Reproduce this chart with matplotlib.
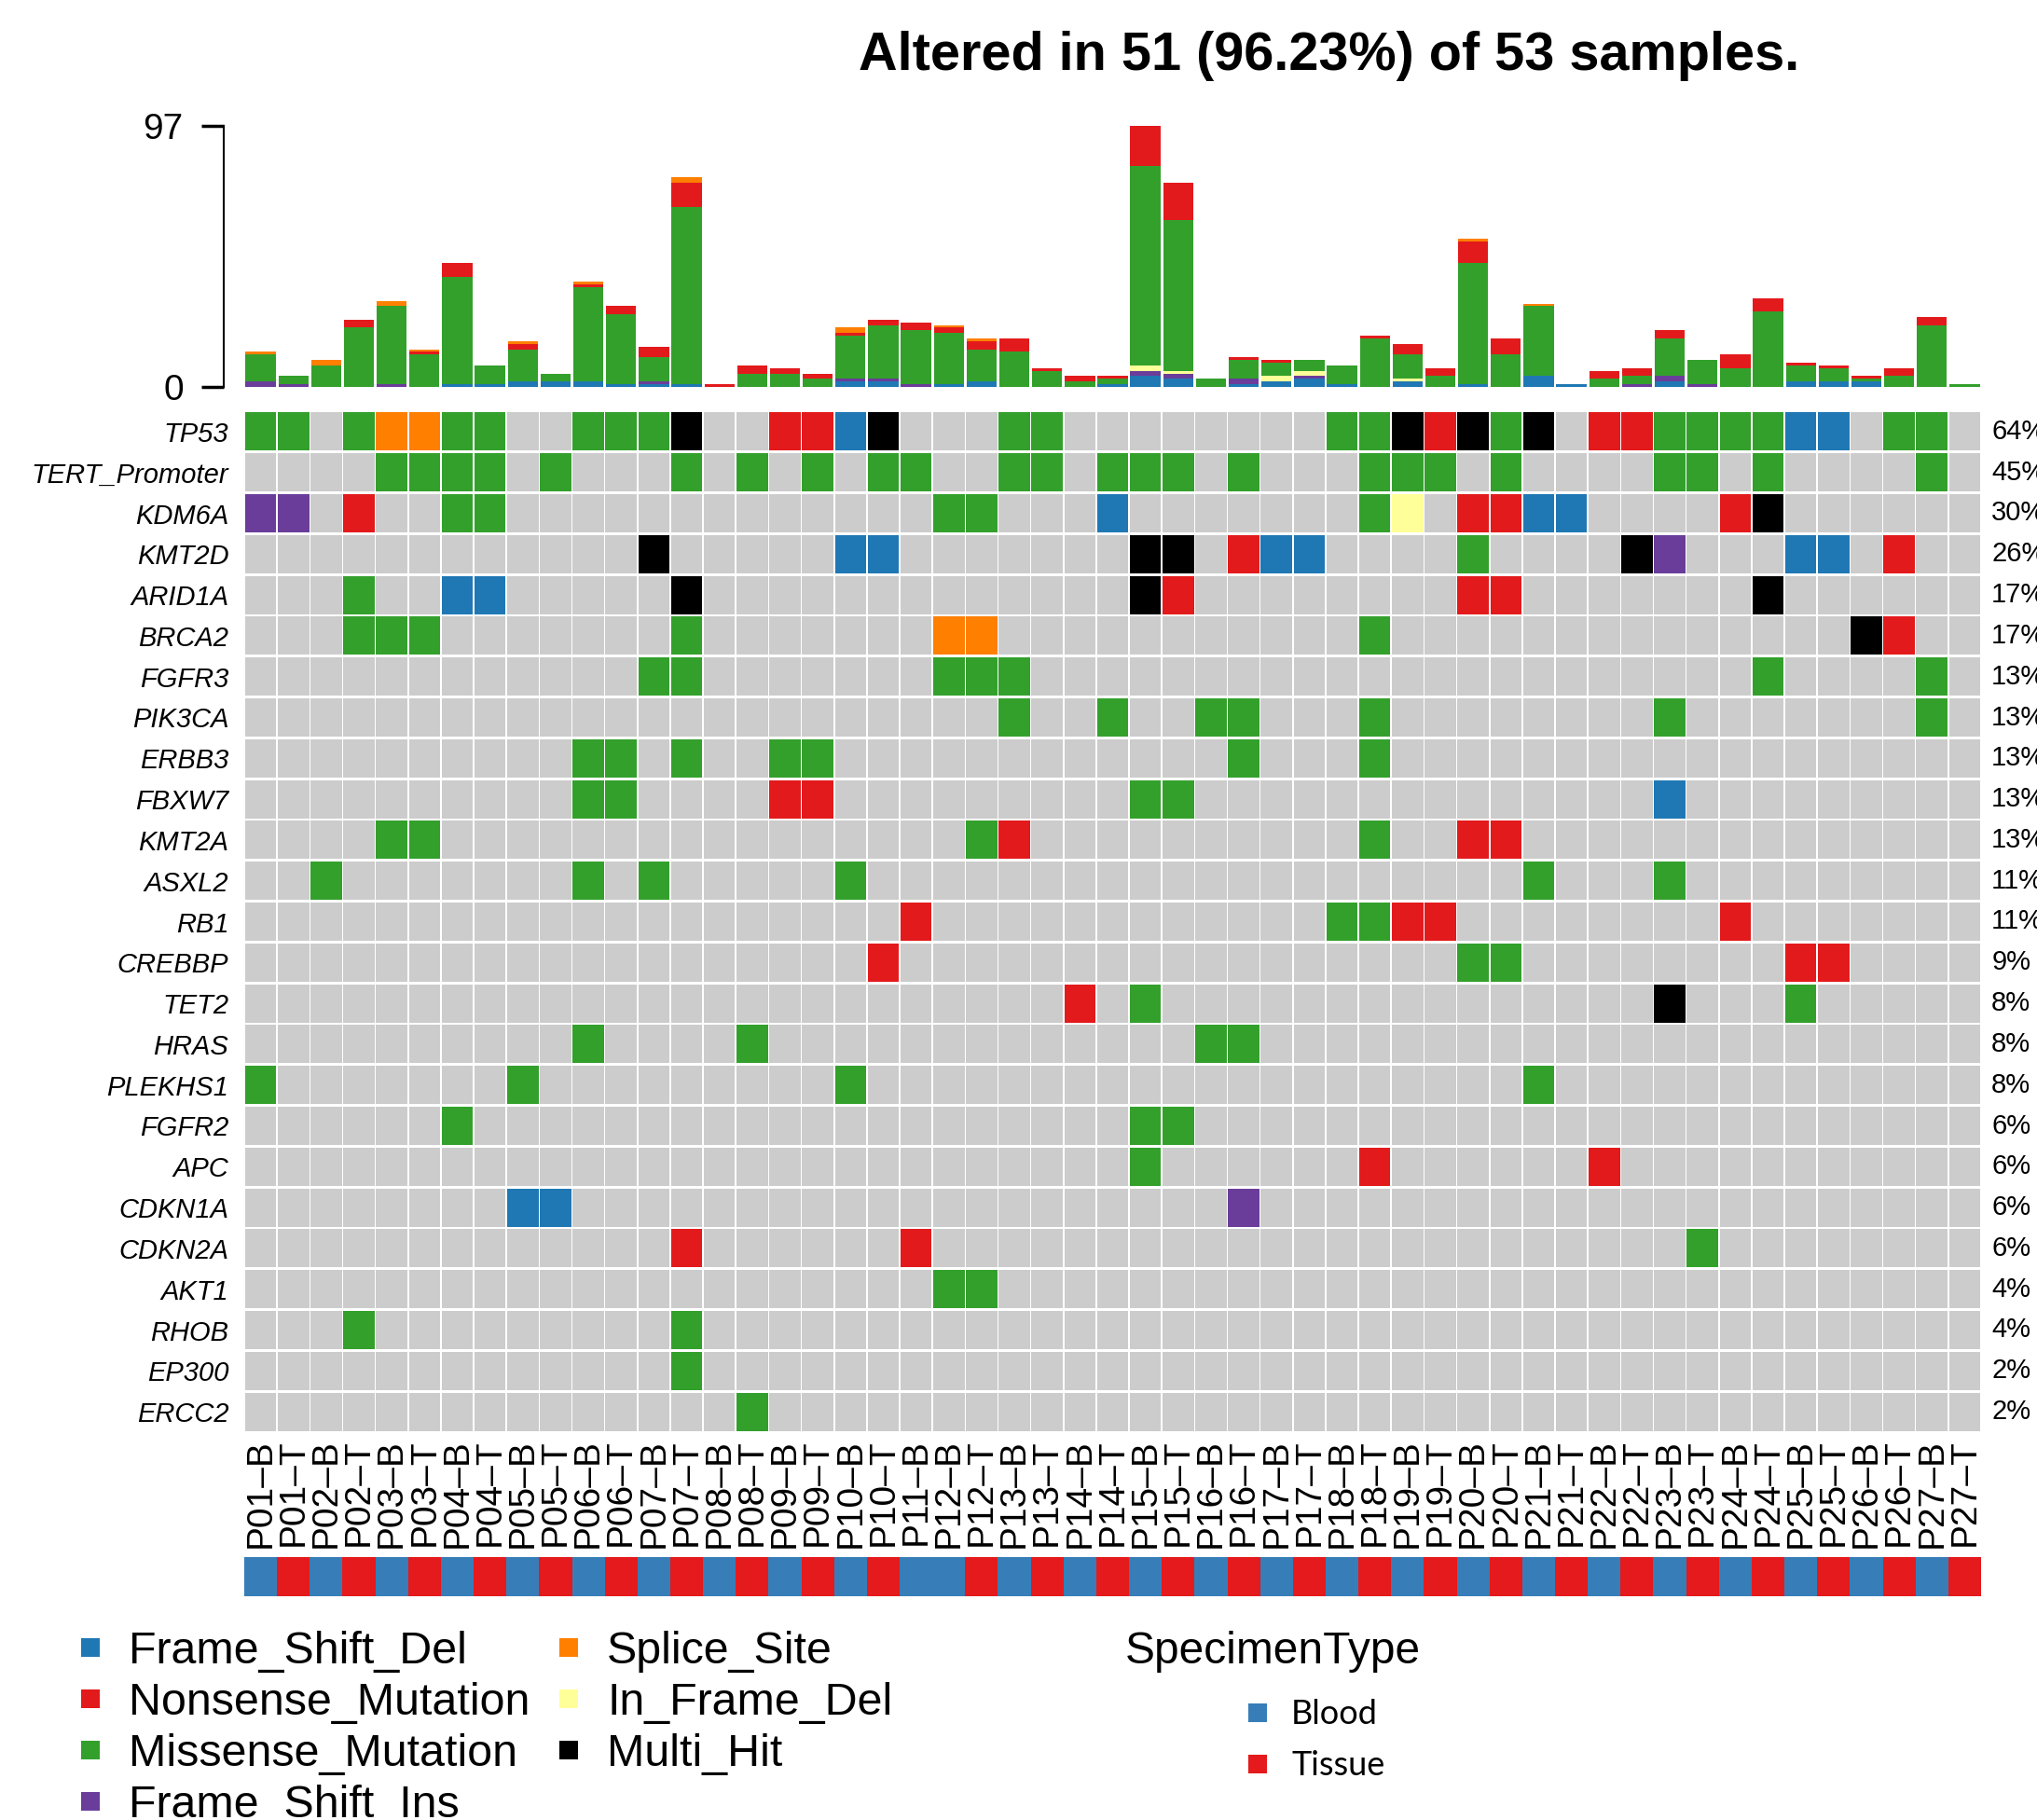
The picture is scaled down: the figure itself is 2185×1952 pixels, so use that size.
import numpy as np
import matplotlib.pyplot as plt
from matplotlib.transforms import blended_transform_factory

plt.rcParams['font.family'] = ['Liberation Sans', 'DejaVu Sans']

# samples (columns) in plot order
samples = ["P01-B", "P01-T", "P02-B", "P02-T", "P03-B", "P03-T", "P04-B", "P04-T",
           "P05-B", "P05-T", "P06-B", "P06-T", "P07-B", "P07-T", "P08-B", "P08-T",
           "P09-B", "P09-T", "P10-B", "P10-T", "P11-B", "P12-B", "P12-T", "P13-B",
           "P13-T", "P14-B", "P14-T", "P15-B", "P15-T", "P16-B", "P16-T", "P17-B",
           "P17-T", "P18-B", "P18-T", "P19-B", "P19-T", "P20-B", "P20-T", "P21-B",
           "P21-T", "P22-B", "P22-T", "P23-B", "P23-T", "P24-B", "P24-T", "P25-B",
           "P25-T", "P26-B", "P26-T", "P27-B", "P27-T"]
specimen = ["Blood" if s.endswith("B") else "Tissue" for s in samples]

genes = ["TP53", "TERT_Promoter", "KDM6A", "KMT2D", "ARID1A", "BRCA2", "FGFR3",
         "PIK3CA", "ERBB3", "FBXW7", "KMT2A", "ASXL2", "RB1", "CREBBP", "TET2",
         "HRAS", "PLEKHS1", "FGFR2", "APC", "CDKN1A", "CDKN2A", "AKT1", "RHOB",
         "EP300", "ERCC2"]

# one string per gene, one char per sample (groups of 10)
# M missense, N nonsense, D frame shift del, I frame shift ins,
# S splice site, Y in frame del, X multi hit, . none
mut_rows = [
    "MM.MSSMM.. MMMX..NNDX ...MM..... ...MMXNXMX .NNMMMMDD. MM.",
    "....MMMM.M ...M.M.M.M M..MM.MMM. M...MMM.M. ...MM.M... .M.",
    "II.N..MM.. .......... .MM...D... ....MY.NND D....NX... ...",
    ".......... ..X.....DD .......XX. NDD....M.. ..XI...DD. N..",
    "...M..DD.. ...X...... .......XN. .......NN. ......X... ...",
    "...MMM.... ...M...... .SS....... ....M..... .........X N..",
    ".......... ..MM...... .MMM...... .......... ......M... .M.",
    ".......... .......... ...M..M..M M...M..... ...M...... .M.",
    ".......... MM.M..MM.. .......... M...M..... .......... ...",
    ".......... MM....NN.. .......MM. .......... ...D...... ...",
    "....MM.... .......... ..MN...... ....M..NN. .......... ...",
    "..M....... M.M.....M. .......... .........M ...M...... ...",
    ".......... .......... N......... ...MMNN... .....N.... ...",
    ".......... .........N .......... .......MM. .......NN. ...",
    ".......... .......... .....N.M.. .......... ...X...M.. ...",
    ".......... M....M.... .........M M......... .......... ...",
    "M.......M. ........M. .......... .........M .......... ...",
    "......M... .......... .......MM. .......... .......... ...",
    ".......... .......... .......M.. ....N..... .N........ ...",
    "........DD .......... .......... I......... .......... ...",
    ".......... ...N...... N......... .......... ....M..... ...",
    ".......... .......... .MM....... .......... .......... ...",
    "...M...... ...M...... .......... .......... .......... ...",
    ".......... ...M...... .......... .......... .......... ...",
    ".......... .....M.... .......... .......... .......... ...",
]

# mutation counts per sample for the top bar plot
tmb_fsd = [0, 0, 0, 0, 0, 0, 1, 1, 2, 2, 2, 1, 1, 1, 0, 0, 0, 0, 2, 2,
           0, 1, 2, 0, 0, 0, 1, 4, 3, 0, 1, 2, 3, 1, 0, 2, 0, 1, 0, 4,
           1, 0, 0, 2, 0, 0, 0, 2, 2, 2, 0, 0, 0]
tmb_fsi = [2, 1, 0, 0, 1, 0, 0, 0, 0, 0, 0, 0, 1, 0, 0, 0, 0, 0, 1, 1,
           1, 0, 0, 0, 0, 0, 0, 2, 2, 0, 2, 0, 1, 0, 0, 0, 0, 0, 0, 0,
           0, 0, 1, 2, 1, 0, 0, 0, 0, 0, 0, 0, 0]
tmb_ifd = [0, 0, 0, 0, 0, 0, 0, 0, 0, 0, 0, 0, 0, 0, 0, 0, 0, 0, 0, 0,
           0, 0, 0, 0, 0, 0, 0, 2, 1, 0, 0, 2, 2, 0, 0, 1, 0, 0, 0, 0,
           0, 0, 0, 0, 0, 0, 0, 0, 0, 0, 0, 0, 0]
tmb_mis = [10, 3, 8, 22, 29, 12, 40, 7, 12, 3, 35, 26, 9, 66, 0, 5, 5, 3, 16, 20,
           20, 19, 12, 13, 6, 2, 2, 74, 56, 3, 7, 5, 4, 7, 18, 9, 4, 45, 12, 26,
           0, 3, 3, 14, 9, 7, 28, 6, 5, 1, 4, 23, 1]
tmb_non = [0, 0, 0, 3, 0, 1, 5, 0, 2, 0, 1, 3, 4, 9, 1, 3, 2, 2, 1, 2,
           3, 2, 3, 5, 1, 2, 1, 15, 14, 0, 1, 1, 0, 0, 1, 4, 3, 8, 6, 0,
           0, 3, 3, 3, 0, 5, 5, 1, 1, 1, 3, 3, 0]
tmb_spl = [1, 0, 2, 0, 2, 1, 0, 0, 1, 0, 1, 0, 0, 2, 0, 0, 0, 0, 2, 0,
           0, 1, 1, 0, 0, 0, 0, 0, 0, 0, 0, 0, 0, 0, 0, 0, 0, 1, 0, 1,
           0, 0, 0, 0, 0, 0, 0, 0, 0, 0, 0, 0, 0]

# colours
vc_col = {'D': '#1F78B4', 'N': '#E31A1C', 'M': '#33A02C', 'I': '#6A3D9A',
          'S': '#FF7F00', 'Y': '#FFFF99', 'X': '#000000', '.': '#CCCCCC'}
vc_name = {'D': 'Frame_Shift_Del', 'N': 'Nonsense_Mutation', 'M': 'Missense_Mutation',
           'I': 'Frame_Shift_Ins', 'S': 'Splice_Site', 'Y': 'In_Frame_Del', 'X': 'Multi_Hit'}
spec_col = {'Blood': '#377EB8', 'Tissue': '#E41A1C'}

W, H = 2185, 1952
fig = plt.figure(figsize=(W / 100, H / 100), dpi=100)


def px_rect(x0, y0, x1, y1):
    return [x0 / W, 1 - y1 / H, (x1 - x0) / W, (y1 - y0) / H]


n = len(samples)
xs = np.arange(n)

# ---- top bar plot
ax_top = fig.add_axes(px_rect(262, 135, 2125, 415))
bottom = np.zeros(n)
for code, vals in [('D', tmb_fsd), ('I', tmb_fsi), ('Y', tmb_ifd),
                   ('M', tmb_mis), ('N', tmb_non), ('S', tmb_spl)]:
    vals = np.array(vals)
    ax_top.bar(xs + 0.5, vals, bottom=bottom, width=0.92, color=vc_col[code], linewidth=0)
    bottom += vals
ax_top.set_xlim(0, n)
ax_top.set_ylim(0, 97)
for s in ['top', 'right', 'bottom']:
    ax_top.spines[s].set_visible(False)
ax_top.spines['left'].set_position(('outward', 16))
ax_top.spines['left'].set_bounds(0, 97)
ax_top.spines['left'].set_linewidth(1.5)
ax_top.set_yticks([0, 97])
ax_top.tick_params(axis='y', labelsize=28, length=17, width=2.5, pad=14)
ax_top.set_xticks([])

fig.text(1426 / W, 1 - 60 / H, "Altered in 51 (96.23%) of 53 samples.",
         ha='center', va='center', fontsize=41.5, fontweight='bold')

# ---- oncoplot matrix
ax = fig.add_axes(px_rect(262, 441, 2125, 1536))
gx, gy = 0.045, 0.06
for i, row in enumerate(mut_rows):
    codes = row.replace(' ', '')
    ax.bar(xs + 0.5, 1 - gy, bottom=i + gy / 2, width=1 - gx,
           color=[vc_col[c] for c in codes], linewidth=0)
ax.set_xlim(0, n)
ax.set_ylim(len(genes), 0)
for s in ax.spines.values():
    s.set_visible(False)
ax.set_yticks(np.arange(len(genes)) + 0.5)
ax.set_yticklabels(genes, fontsize=21, style='italic')
ax.tick_params(axis='y', length=0, pad=12)
ax.set_xticks(xs + 0.5)
ax.set_xticklabels([s.replace('-', '\u2013') for s in samples], rotation=90, fontsize=28)
ax.tick_params(axis='x', length=0, pad=5)

# percent altered on the right (runs off the page edge like the original)
trans = blended_transform_factory(ax.transAxes, ax.transData)
for i, row in enumerate(mut_rows):
    codes = row.replace(' ', '')
    pct = round(100 * sum(c != '.' for c in codes) / n)
    ax.text(1.006, i + 0.5, f"{pct}%", transform=trans, ha='left', va='center',
            fontsize=21, clip_on=False)

# ---- specimen annotation bar
ax_sp = fig.add_axes(px_rect(262, 1670, 2125, 1712))
ax_sp.bar(xs + 0.5, 1, width=1, color=[spec_col[s] for s in specimen], linewidth=0)
ax_sp.set_xlim(0, n)
ax_sp.set_ylim(0, 1)
ax_sp.axis('off')

# ---- legends
leg = fig.add_axes([0, 0, 1, 1])
leg.set_xlim(0, W)
leg.set_ylim(H, 0)
leg.axis('off')
leg_items = [('D', 97, 1767), ('N', 97, 1822), ('M', 97, 1877), ('I', 97, 1932),
             ('S', 610, 1767), ('Y', 610, 1822), ('X', 610, 1877)]
for code, x, y in leg_items:
    leg.scatter([x], [y], marker='s', s=200, color=vc_col[code], linewidths=0)
    leg.text(x + 41, y + 17, vc_name[code], fontsize=34.8, va='baseline', ha='left')

leg.text(1207, 1767 + 17, "SpecimenType", fontsize=34.5, va='baseline', ha='left')
for lab, y in [('Blood', 1837), ('Tissue', 1892)]:
    leg.scatter([1349], [y], marker='s', s=200, color=spec_col[lab], linewidths=0)
    leg.text(1385, y + 12, lab, fontsize=26, va='baseline', ha='left',
             family=['Lato', 'DejaVu Sans'])

fig.savefig('out.png', dpi=100)
